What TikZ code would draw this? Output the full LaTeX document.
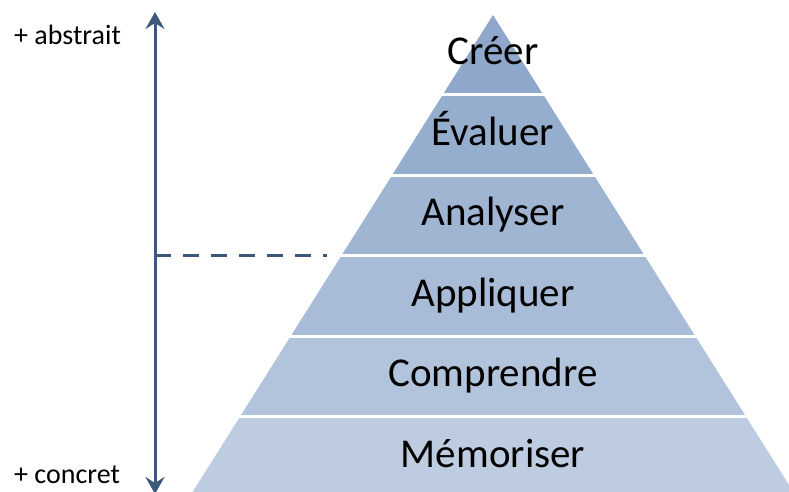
\documentclass[tikz,border=0pt]{standalone}
\usepackage{fontspec}
\setmainfont{Carlito}
\usetikzlibrary{arrows.meta}
\definecolor{axisblue}{RGB}{60,88,122}
\definecolor{bandA}{RGB}{142,167,203}
\definecolor{bandB}{RGB}{150,174,206}
\definecolor{bandC}{RGB}{159,181,210}
\definecolor{bandD}{RGB}{168,188,215}
\definecolor{bandE}{RGB}{178,196,219}
\definecolor{bandF}{RGB}{189,204,224}
\tikzset{
  levellabel/.style={anchor=base, inner sep=0pt, font=\fontsize{41}{46}\selectfont, text=black},
  sidelabel/.style={anchor=base west, inner sep=0pt, font=\fontsize{28}{32}\selectfont, text=black},
  axisline/.style={draw=axisblue, line width=3pt, {Stealth[length=17pt,width=19pt,inset=6pt]}-{Stealth[length=17pt,width=19pt,inset=6pt]}},
  dashline/.style={draw=axisblue, line width=3.5pt, dash pattern=on 16pt off 12pt},
  sepline/.style={draw=white, line width=3pt}
}
\begin{document}
\begin{tikzpicture}[x=1pt,y=-1pt]
\useasboundingbox (0,0) rectangle (789,492);
\begin{scope}
\clip (0,0) rectangle (789,492);
% bands (apex 493,15 ; half width = 0.63*(y-15))
\fill[bandA] (493,15) -- (543.1,94.5) -- (442.9,94.5) -- cycle;
\fill[bandB] (442.9,94.5) -- (543.1,94.5) -- (593.8,175) -- (392.2,175) -- cycle;
\fill[bandC] (392.2,175) -- (593.8,175) -- (644.5,255.5) -- (341.5,255.5) -- cycle;
\fill[bandD] (341.5,255.5) -- (644.5,255.5) -- (695.2,336) -- (290.8,336) -- cycle;
\fill[bandE] (290.8,336) -- (695.2,336) -- (745.9,416.5) -- (240.1,416.5) -- cycle;
\fill[bandF] (240.1,416.5) -- (745.9,416.5) -- (796.6,497) -- (189.4,497) -- cycle;
% separators
\draw[sepline] (440,94.5) -- (546,94.5);
\draw[sepline] (389,175) -- (597,175);
\draw[sepline] (338.5,255.5) -- (647.5,255.5);
\draw[sepline] (287.8,336) -- (698.2,336);
\draw[sepline] (237,416.5) -- (749,416.5);
% axis
\coordinate (axtop) at (155,12);
\coordinate (axbot) at (155,494);
\coordinate (dashstart) at (155,255.5);
\coordinate (dashend) at (327,255.5);
\draw[dashline] (dashstart) -- (dashend);
\draw[axisline] (axtop) -- (axbot);
\end{scope}
% labels
\node[levellabel] (creer) at (493,64.5) {Créer};
\node[levellabel] (evaluer) at (493,145) {Évaluer};
\node[levellabel] (analyser) at (493,225.5) {Analyser};
\node[levellabel] (appliquer) at (493,306) {Appliquer};
\node[levellabel] (comprendre) at (493,386.5) {Comprendre};
\node[levellabel] (memoriser) at (493,467) {Mémoriser};
\node[sidelabel] (abstrait) at (14,45) {+ abstrait};
\node[sidelabel] (concret) at (14,483) {+ concret};
\end{tikzpicture}
\end{document}
